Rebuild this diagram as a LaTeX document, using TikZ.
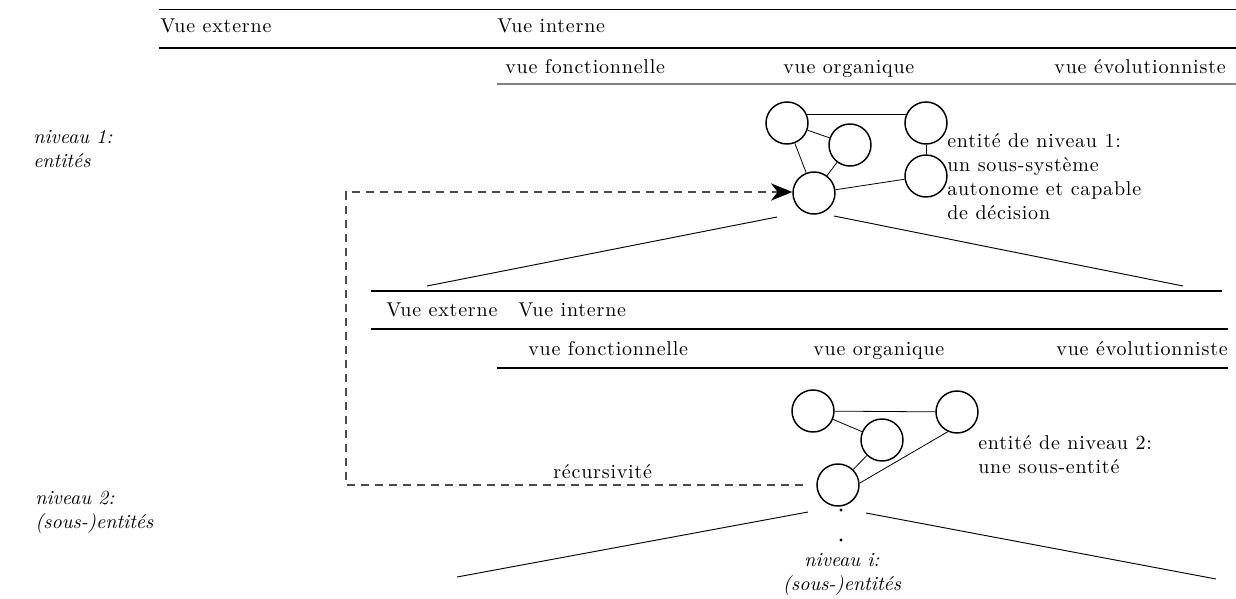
\documentclass[tikz,border=0pt]{standalone}
\usepackage{fontspec}
\setmainfont{lmroman10-regular}[Extension=.otf,ItalicFont=lmroman10-italic,BoldFont=lmroman10-bold,LetterSpace=4,ItalicFeatures={LetterSpace=0}]
\usetikzlibrary{arrows.meta}
\begin{document}
\begin{tikzpicture}[x=0.75pt,y=-0.75pt,
  ent/.style={circle,draw,line width=1.1pt,minimum size=31.5pt,inner sep=0pt},
  link/.style={line width=0.6pt},
  rule/.style={line width=0.9pt},
  grayrule/.style={line width=1.6pt,draw=black!50},
  fan/.style={line width=0.7pt},
  recur/.style={line width=0.8pt,draw=black!70,dash pattern=on 6pt off 4.5pt},
  lbl/.style={inner sep=0pt,font=\fontsize{15pt}{18pt}\selectfont},
  lvl/.style={inner sep=0pt,font=\fontsize{15pt}{18pt}\selectfont\itshape,align=left},
  txt/.style={inner sep=0pt,font=\fontsize{15pt}{18pt}\selectfont,align=left},
]
\useasboundingbox (0,0) rectangle (1236,599);

% ---------- level 1 header ----------
\draw[rule] (159,9.5) -- (1236,9.5);
\draw[rule] (159,48) -- (1236,48);
\draw[grayrule] (497,84) -- (1236,84);
\node[lbl,anchor=base west] (ve1) at (160,33) {Vue externe};
\node[lbl,anchor=base west] (vi1) at (497,33) {Vue interne};
\node[lbl,anchor=base west] (vf1) at (505,74) {vue fonctionnelle};
\node[lbl,anchor=base west] (vo1) at (783,74) {vue organique};
\node[lbl,anchor=base east] (vev1) at (1226,74) {vue évolutionniste};

% ---------- level 1 entities ----------
\node[ent] (A) at (787,123) {};
\node[ent] (B) at (850,145) {};
\node[ent] (C) at (926,123) {};
\node[ent] (D) at (814,193) {};
\node[ent] (E) at (926,176) {};
\draw[link] (A.22) -- (C.158);
\draw[link] (A) -- (B);
\draw[link] (A) -- (D);
\draw[link] (B) -- (D);
\draw[link] (C) -- (E);
\draw[link] (D) -- (E);
\node[txt,anchor=north west] (e1) at (947,133) {entité de niveau 1:\\un sous-système\\autonome et capable\\de décision};
\node[lvl,anchor=north west] (n1) at (33,129.5) {niveau 1:\\entités};

% fan lines 1
\coordinate (l1a) at (777,217);
\coordinate (l1b) at (427,286);
\coordinate (r1a) at (834,216);
\coordinate (r1b) at (1183,286);
\draw[fan] (l1a) -- (l1b);
\draw[fan] (r1a) -- (r1b);

% ---------- level 2 header ----------
\draw[rule] (371,291) -- (1222,291);
\draw[rule] (371,329) -- (1228,329);
\draw[rule] (497,368) -- (1228,368);
\node[lbl,anchor=base west] (ve2) at (386,316) {Vue externe};
\node[lbl,anchor=base west] (vi2) at (518,316) {Vue interne};
\node[lbl,anchor=base west] (vf2) at (528,355) {vue fonctionnelle};
\node[lbl,anchor=base west] (vo2) at (813,355) {vue organique};
\node[lbl,anchor=base east] (vev2) at (1228,355) {vue évolutionniste};

% ---------- level 2 entities ----------
\node[ent] (F) at (813,411) {};
\node[ent] (G) at (882,440) {};
\node[ent] (H) at (957,412) {};
\node[ent] (I) at (838,485) {};
\draw[link] (F) -- (H);
\draw[link] (F) -- (G);
\draw[link] (G) -- (I);
\draw[link] (I.5) -- (H.245);
\node[txt,anchor=north west] (e2) at (978,435) {entité de niveau 2:\\une sous-entité};
\node[lvl,anchor=north west] (n2) at (35,490.5) {niveau 2:\\(sous-)entités};

% recursion arrow
\coordinate (corner) at (346,192);
\draw[recur,-{Stealth[length=16pt,width=13pt,inset=5pt,black]}] ([xshift=-10pt]I.west) -| (corner) -- (D.west |- corner);
\node[lbl,anchor=base west] (rec) at (553,478) {récursivité};

% fan lines 2
\coordinate (l2a) at (808,512);
\coordinate (l2b) at (457,577);
\coordinate (r2a) at (866,513);
\coordinate (r2b) at (1216,579);
\draw[fan] (l2a) -- (l2b);
\draw[fan] (r2a) -- (r2b);

% dots and level i
\fill (841,510) circle (1.2pt);
\fill (841,540) circle (1.2pt);
\node[lvl,align=center,anchor=north] (ni) at (842,553.5) {niveau i:\\(sous-)entités};
\end{tikzpicture}
\end{document}
